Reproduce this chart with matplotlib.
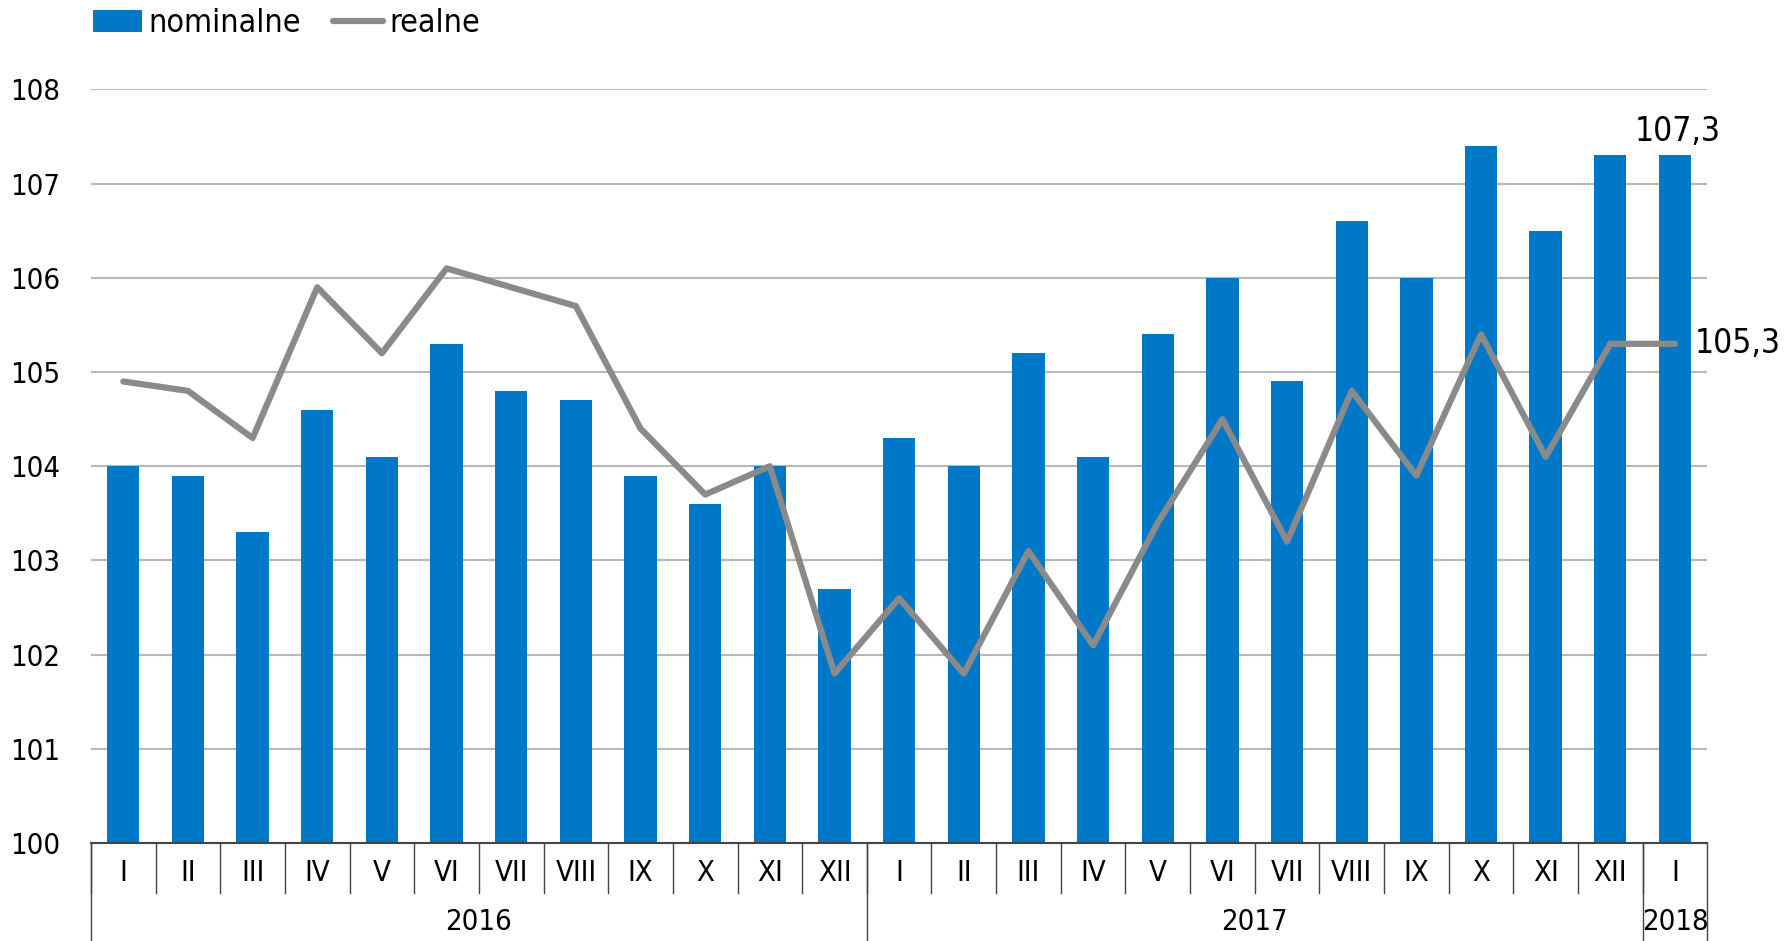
import matplotlib.pyplot as plt
import matplotlib.transforms as mtransforms
import numpy as np

plt.rcParams['font.family'] = ['DejaVu Sans']
plt.rcParams['font.stretch'] = 'condensed'

# dane
months = ['I', 'II', 'III', 'IV', 'V', 'VI', 'VII', 'VIII', 'IX', 'X', 'XI', 'XII',
          'I', 'II', 'III', 'IV', 'V', 'VI', 'VII', 'VIII', 'IX', 'X', 'XI', 'XII',
          'I']
years = ['2016', '2017', '2018']
year_len = [12, 12, 1]
nominalne = [104.0, 103.9, 103.3, 104.6, 104.1, 105.3, 104.8, 104.7, 103.9, 103.6, 104.0, 102.7,
             104.3, 104.0, 105.2, 104.1, 105.4, 106.0, 104.9, 106.6, 106.0, 107.4, 106.5, 107.3,
             107.3]
realne = [104.9, 104.8, 104.3, 105.9, 105.2, 106.1, 105.9, 105.7, 104.4, 103.7, 104.0, 101.8,
          102.6, 101.8, 103.1, 102.1, 103.4, 104.5, 103.2, 104.8, 103.9, 105.4, 104.1, 105.3,
          105.3]

blue = '#0078C8'
grey = '#8a8a8a'

fig = plt.figure(figsize=(17.84, 9.41), dpi=100)
ax = fig.add_axes([0.051, 0.104, 0.906, 0.801])

x = np.arange(len(months))
bars = ax.bar(x, [v - 100 for v in nominalne], bottom=100, width=0.5, color=blue, label='nominalne', zorder=2)
line, = ax.plot(x, realne, color=grey, lw=4.5, solid_capstyle='round', label='realne', zorder=3)

ax.set_xlim(-0.5, len(months) - 0.5)
ax.set_ylim(100, 108)
ax.set_yticks(range(100, 109))
ax.tick_params(axis='y', length=0, labelsize=21, pad=22)
ax.set_xticks([])
ax.grid(axis='y', color='#b8b8b8', lw=1.5, zorder=0)
for s in ['left', 'right', 'top']:
    ax.spines[s].set_visible(False)
ax.spines['bottom'].set_color('#444444')
ax.spines['bottom'].set_linewidth(1.5)

# os kategorii
tr = mtransforms.blended_transform_factory(ax.transData, ax.transAxes)
for i, m in enumerate(months):
    ax.text(i, -0.04, m, transform=tr, ha='center', va='center', fontsize=21)
    ax.plot([i - 0.5, i - 0.5], [0, -0.066], transform=tr, color='#444444', lw=1, clip_on=False)
start = 0
for y, n in zip(years, year_len):
    ax.text(start + n / 2 - 0.5, -0.105, y, transform=tr, ha='center', va='center', fontsize=21)
    ax.plot([start - 0.5, start - 0.5], [0, -0.14], transform=tr, color='#444444', lw=1, clip_on=False)
    start += n
ax.plot([start - 0.5, start - 0.5], [0, -0.14], transform=tr, color='#444444', lw=1, clip_on=False)

# etykiety ostatnich wartosci
ax.annotate(f'{nominalne[-1]:.1f}'.replace('.', ','), (x[-1], nominalne[-1]), xytext=(2, 5),
            textcoords='offset points', ha='center', va='bottom', fontsize=24)
ax.annotate(f'{realne[-1]:.1f}'.replace('.', ','), (x[-1], realne[-1]), xytext=(14, 0),
            textcoords='offset points', ha='left', va='center', fontsize=24, annotation_clip=False)

ax.legend([bars, line], ['nominalne', 'realne'], loc='center left', bbox_to_anchor=(0.052, 0.975),
          bbox_transform=fig.transFigure, ncol=2, frameon=False, fontsize=23, handlelength=1.55,
          handletextpad=0.2, columnspacing=1.0, borderaxespad=0, borderpad=0)

fig.savefig('out.png', dpi=100)
